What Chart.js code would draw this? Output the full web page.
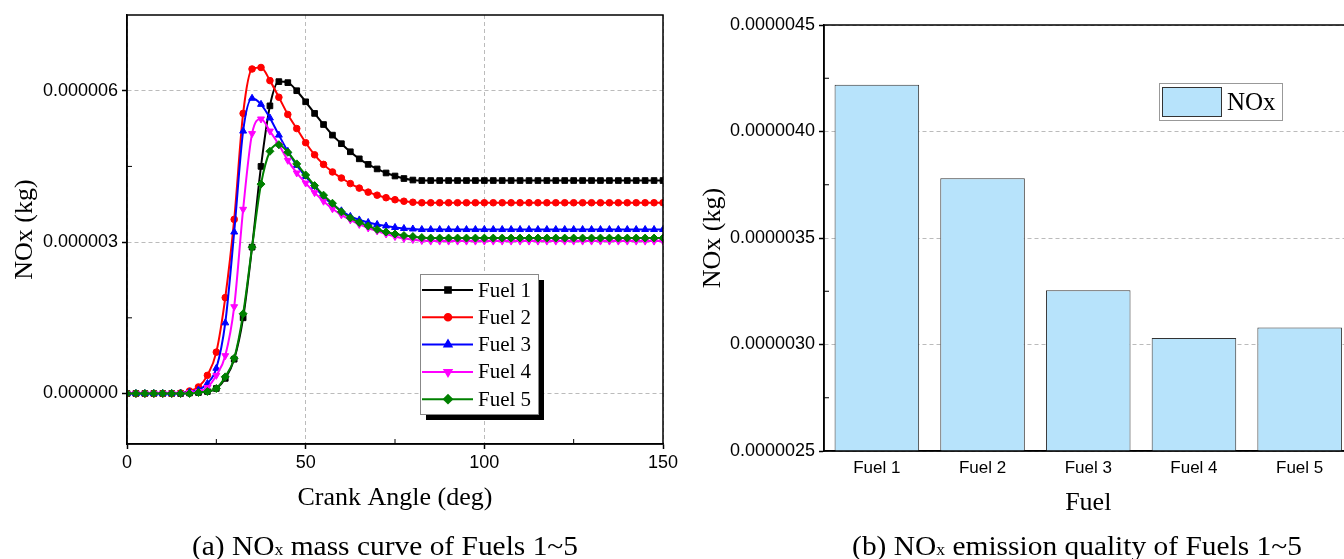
<!DOCTYPE html>
<html lang="en">
<head>
<meta charset="utf-8"/>
<title>NOx of Fuels 1~5</title>
<script src="https://cdn.jsdelivr.net/npm/chart.js"></script>
<style>
  html, body { margin: 0; padding: 0; background: #fff; }
  body { width: 1344px; height: 559px; overflow: hidden; position: relative; }
  .box { position: absolute; top: 0; height: 559px; }
  #left { left: 0; width: 690px; }
  #right { left: 690px; width: 680px; }
  .caption { position: absolute; top: 533px; font-family: "Liberation Serif", "Times New Roman", serif;
             font-size: 27px; line-height: 26px; white-space: nowrap; color: #000; transform: translateX(-50%) scaleX(1.09); }
  .caption span { font-size: 0.6em; }
</style>
</head>
<body>
<div class="box" id="left"><canvas id="mass-chart"></canvas></div>
<div class="box" id="right"><canvas id="bar-chart"></canvas></div>
<div class="caption" style="left:385px">(a) NO<span>x</span> mass curve of Fuels 1~5</div>
<div class="caption" style="left:1077px">(b) NO<span>x</span> emission quality of Fuels 1~5</div>
<script>
// values in 1e-6 kg
const crank = [0, 2.5, 5, 7.5, 10, 12.5, 15, 17.5, 20, 22.5, 25, 27.5, 30, 32.5, 35, 37.5, 40, 42.5, 45, 47.5,
  50, 52.5, 55, 57.5, 60, 62.5, 65, 67.5, 70, 72.5, 75, 77.5, 80, 82.5, 85, 87.5, 90, 92.5, 95, 97.5,
  100, 102.5, 105, 107.5, 110, 112.5, 115, 117.5, 120, 122.5, 125, 127.5, 130, 132.5, 135, 137.5, 140, 142.5, 145, 147.5, 150];

const fuel1 = [0, 0, 0, 0, 0, 0, 0, 0.01, 0.02, 0.04, 0.1, 0.3, 0.68, 1.5, 2.9, 4.5, 5.7, 6.18, 6.16, 6.0,
  5.78, 5.55, 5.33, 5.12, 4.95, 4.79, 4.65, 4.54, 4.45, 4.37, 4.31, 4.26, 4.23, 4.22, 4.22, 4.22, 4.22, 4.22, 4.22, 4.22,
  4.22, 4.22, 4.22, 4.22, 4.22, 4.22, 4.22, 4.22, 4.22, 4.22, 4.22, 4.22, 4.22, 4.22, 4.22, 4.22, 4.22, 4.22, 4.22, 4.22, 4.22];
const fuel2 = [0, 0, 0, 0, 0, 0, 0.01, 0.05, 0.13, 0.36, 0.82, 1.9, 3.45, 5.55, 6.43, 6.46, 6.2, 5.87, 5.53, 5.25,
  4.97, 4.73, 4.54, 4.39, 4.27, 4.16, 4.07, 3.99, 3.93, 3.88, 3.84, 3.81, 3.79, 3.78, 3.78, 3.78, 3.78, 3.78, 3.78, 3.78,
  3.78, 3.78, 3.78, 3.78, 3.78, 3.78, 3.78, 3.78, 3.78, 3.78, 3.78, 3.78, 3.78, 3.78, 3.78, 3.78, 3.78, 3.78, 3.78, 3.78, 3.78];
const fuel3 = [0, 0, 0, 0, 0, 0, 0.01, 0.03, 0.07, 0.2, 0.5, 1.4, 3.2, 5.2, 5.85, 5.73, 5.46, 5.12, 4.8, 4.52,
  4.3, 4.1, 3.9, 3.75, 3.62, 3.51, 3.44, 3.39, 3.35, 3.32, 3.29, 3.27, 3.26, 3.25, 3.25, 3.25, 3.25, 3.25, 3.25, 3.25,
  3.25, 3.25, 3.25, 3.25, 3.25, 3.25, 3.25, 3.25, 3.25, 3.25, 3.25, 3.25, 3.25, 3.25, 3.25, 3.25, 3.25, 3.25, 3.25, 3.25, 3.25];
const fuel4 = [0, 0, 0, 0, 0, 0, 0, 0.02, 0.04, 0.12, 0.36, 0.75, 1.72, 3.65, 5.15, 5.44, 5.2, 4.93, 4.62, 4.37,
  4.17, 3.98, 3.81, 3.66, 3.54, 3.44, 3.35, 3.28, 3.22, 3.16, 3.11, 3.07, 3.05, 3.03, 3.02, 3.02, 3.02, 3.02, 3.02, 3.02,
  3.02, 3.02, 3.02, 3.02, 3.02, 3.02, 3.02, 3.02, 3.02, 3.02, 3.02, 3.02, 3.02, 3.02, 3.02, 3.02, 3.02, 3.02, 3.02, 3.02, 3.02];
const fuel5 = [0, 0, 0, 0, 0, 0, 0, 0, 0.02, 0.04, 0.1, 0.33, 0.7, 1.58, 2.9, 4.15, 4.8, 4.93, 4.78, 4.55,
  4.33, 4.12, 3.93, 3.77, 3.6, 3.48, 3.39, 3.32, 3.25, 3.2, 3.16, 3.13, 3.11, 3.09, 3.08, 3.08, 3.08, 3.08, 3.08, 3.08,
  3.08, 3.08, 3.08, 3.08, 3.08, 3.08, 3.08, 3.08, 3.08, 3.08, 3.08, 3.08, 3.08, 3.08, 3.08, 3.08, 3.08, 3.08, 3.08, 3.08, 3.08];

const massTicksX = [0, 50, 100, 150];
const massMinorX = [25, 75, 125];
const massTicksY = [0, 3, 6];
const massMinorY = [1.5, 4.5];

const fuels = ['Fuel 1', 'Fuel 2', 'Fuel 3', 'Fuel 4', 'Fuel 5'];
const noxTotal = [4.22, 3.78, 3.255, 3.03, 3.08];
const barTicksY = [2.5, 3.0, 3.5, 4.0, 4.5];
const barMinorY = [2.75, 3.25, 3.75, 4.25];

const sans = '"Liberation Sans", Arial, sans-serif';
const serif = '"Liberation Serif", "Times New Roman", serif';
Chart.defaults.font.family = sans;
Chart.defaults.color = '#000';

// later fuels sit on top, as in the original plot
const styles = [
  { label: 'Fuel 1', data: fuel1, color: '#000000', pointStyle: 'rect', radius: 4, rotation: 0, order: 5 },
  { label: 'Fuel 2', data: fuel2, color: '#ff0000', pointStyle: 'circle', radius: 3.3, rotation: 0, order: 4 },
  { label: 'Fuel 3', data: fuel3, color: '#0000ff', pointStyle: 'triangle', radius: 4, rotation: 0, order: 3 },
  { label: 'Fuel 4', data: fuel4, color: '#ff00ff', pointStyle: 'triangle', radius: 4, rotation: 180, order: 2 },
  { label: 'Fuel 5', data: fuel5, color: '#008000', pointStyle: 'rectRot', radius: 4, rotation: 0, order: 1 }
];

// draws box round chart area + inward minor ticks
function framePlugin(minorX, minorY) {
  return {
    id: 'frame',
    afterDraw(chart) {
      const { ctx, chartArea: a } = chart;
      ctx.save();
      ctx.strokeStyle = '#000';
      ctx.lineWidth = 1.5;
      ctx.strokeRect(a.left, a.top, a.right - a.left, a.bottom - a.top);
      ctx.lineWidth = 1;
      ctx.beginPath();
      minorX.forEach(v => {
        const x = chart.scales.x.getPixelForValue(v);
        ctx.moveTo(x, a.bottom); ctx.lineTo(x, a.bottom - 5);
      });
      minorY.forEach(v => {
        const y = chart.scales.y.getPixelForValue(v);
        ctx.moveTo(a.left, y); ctx.lineTo(a.left + 5, y);
      });
      ctx.stroke();
      ctx.restore();
    }
  };
}

const lineLegend = {
  id: 'lineLegend',
  afterDraw(chart) {
    const { ctx, chartArea: a } = chart;
    const w = 118, h = 140;
    const x0 = a.right - 243, y0 = a.bottom - 30 - h;
    ctx.save();
    ctx.fillStyle = '#000';
    ctx.fillRect(x0 + 6, y0 + 6, w, h);
    ctx.fillStyle = '#fff';
    ctx.fillRect(x0, y0, w, h);
    ctx.strokeStyle = '#888';
    ctx.lineWidth = 1;
    ctx.strokeRect(x0 + 0.5, y0 + 0.5, w, h);
    ctx.font = '21px ' + serif;
    ctx.textBaseline = 'middle';
    chart.data.datasets.forEach((ds, i) => {
      const y = y0 + 16 + i * 27.3;
      ctx.strokeStyle = ds.borderColor;
      ctx.lineWidth = 2;
      ctx.beginPath();
      ctx.moveTo(x0 + 2, y); ctx.lineTo(x0 + 53, y);
      ctx.stroke();
      ctx.fillStyle = ds.borderColor;
      Chart.helpers.drawPoint(ctx, { pointStyle: ds.pointStyle, rotation: ds.pointRotation, radius: ds.pointRadius, borderWidth: 1 }, x0 + 28, y);
      ctx.fillStyle = '#000';
      ctx.fillText(ds.label, x0 + 58, y + 1);
    });
    ctx.restore();
  }
};

const barLegend = {
  id: 'barLegend',
  afterDraw(chart) {
    const { ctx, chartArea: a } = chart;
    const ds = chart.data.datasets[0];
    const x0 = 469, y0 = a.top + 58;
    ctx.save();
    ctx.fillStyle = '#fff';
    ctx.fillRect(x0, y0, 123, 37);
    ctx.strokeStyle = '#999';
    ctx.lineWidth = 1;
    ctx.strokeRect(x0 + 0.5, y0 + 0.5, 123, 37);
    ctx.fillStyle = ds.backgroundColor;
    ctx.fillRect(x0 + 3.5, y0 + 4.5, 59, 29);
    ctx.strokeStyle = '#333';
    ctx.strokeRect(x0 + 3.5, y0 + 4.5, 59, 29);
    ctx.fillStyle = '#000';
    ctx.font = '25px ' + serif;
    ctx.textBaseline = 'middle';
    ctx.fillText(ds.label, x0 + 68, y0 + 20);
    ctx.restore();
  }
};

new Chart(document.getElementById('mass-chart'), {
  type: 'line',
  data: {
    labels: crank,
    datasets: styles.map(s => ({
      label: s.label,
      data: s.data.map((v, i) => ({ x: crank[i], y: v })),
      order: s.order,
      borderColor: s.color,
      backgroundColor: s.color,
      borderWidth: 2,
      pointStyle: s.pointStyle,
      pointRotation: s.rotation,
      pointRadius: s.radius,
      pointBackgroundColor: s.color,
      pointBorderColor: s.color,
      pointBorderWidth: 1,
      cubicInterpolationMode: 'monotone'
    }))
  },
  options: {
    responsive: true,
    maintainAspectRatio: false,
    animation: false,
    layout: { padding: { top: 15, right: 27, left: 0, bottom: 0 } },
    plugins: { legend: { display: false }, tooltip: { enabled: false } },
    scales: {
      x: {
        type: 'linear', min: 0, max: 150,
        afterBuildTicks: s => { s.ticks = massTicksX.map(v => ({ value: v })); },
        afterFit: s => { s.height = 115; },
        ticks: { font: { size: 18 }, padding: 3, maxRotation: 0 },
        grid: { color: '#bbbbbb', lineWidth: 1, tickLength: 5, tickColor: '#000', tickWidth: 1.5 },
        border: { color: '#000', width: 1.5, dash: [4, 3] },
        title: { display: true, text: 'Crank Angle (deg)', font: { family: serif, size: 26 }, padding: { top: 0, bottom: 45 } }
      },
      y: {
        min: -1, max: 7.5,
        afterBuildTicks: s => { s.ticks = massTicksY.map(v => ({ value: v })); },
        afterFit: s => { s.width = 127; },
        ticks: { font: { size: 18 }, padding: 4, callback: v => (v / 1e6).toFixed(6) },
        grid: { color: '#bbbbbb', lineWidth: 1, tickLength: 5, tickColor: '#000', tickWidth: 1.5 },
        border: { color: '#000', width: 1.5, dash: [4, 3] },
        title: { display: true, text: 'NOx (kg)', font: { family: serif, size: 26 }, padding: { top: 10, bottom: 0 } }
      }
    }
  },
  plugins: [framePlugin(massMinorX, massMinorY), lineLegend]
});

new Chart(document.getElementById('bar-chart'), {
  type: 'bar',
  data: {
    labels: fuels,
    datasets: [{
      label: 'NOx',
      data: noxTotal,
      backgroundColor: '#b7e3fb',
      borderColor: '#333333',
      borderWidth: 1,
      borderSkipped: false,
      barPercentage: 0.8,
      categoryPercentage: 1.0
    }]
  },
  options: {
    responsive: true,
    maintainAspectRatio: false,
    animation: false,
    layout: { padding: { top: 25, right: 17.5, left: 0, bottom: 0 } },
    plugins: { legend: { display: false }, tooltip: { enabled: false } },
    scales: {
      x: {
        afterFit: s => { s.height = 108; },
        ticks: { font: { size: 17 }, padding: 7 },
        grid: { display: false, drawTicks: false },
        border: { color: '#000', width: 1.5 },
        title: { display: true, text: 'Fuel', font: { family: serif, size: 26 }, padding: { top: 0, bottom: 40 } }
      },
      y: {
        min: 2.5, max: 4.5,
        afterBuildTicks: s => { s.ticks = barTicksY.map(v => ({ value: v })); },
        afterFit: s => { s.width = 134; },
        ticks: { font: { size: 18 }, padding: 4, callback: v => (v / 1e6).toFixed(7) },
        grid: { color: '#bbbbbb', lineWidth: 1, tickLength: 5, tickColor: '#000', tickWidth: 1.5 },
        border: { color: '#000', width: 1.5, dash: [4, 3] },
        title: { display: true, text: 'NOx (kg)', font: { family: serif, size: 26 }, padding: { top: 8, bottom: 0 } }
      }
    }
  },
  plugins: [framePlugin([], barMinorY), barLegend]
});
</script>
</body>
</html>
